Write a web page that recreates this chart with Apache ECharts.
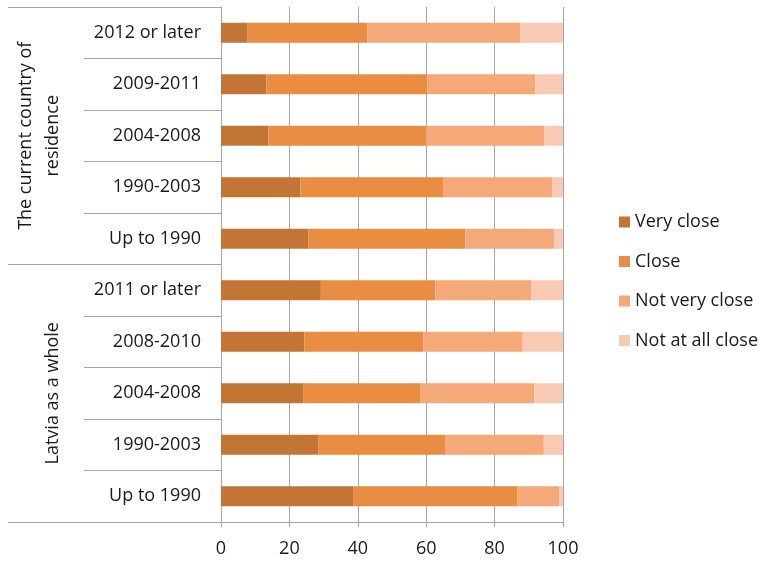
<!DOCTYPE html>
<html>
<head>
<meta charset="utf-8">
<script src="https://cdn.jsdelivr.net/npm/echarts@6/dist/echarts.min.js"></script>
<style>html,body{margin:0;padding:0;background:#fff}#c{width:765px;height:561px}</style>
</head>
<body>
<div id="c"></div>
<script>
const categories = ['2012 or later','2009-2011','2004-2008','1990-2003','Up to 1990',
                    '2011 or later','2008-2010','2004-2008','1990-2003','Up to 1990'];
const groups = ['The current country of\nresidence','Latvia as a whole'];
const seriesNames = ['Very close','Close','Not very close','Not at all close'];
const veryClose    = [7.8, 13.3, 13.9, 23.2, 25.6, 29.2, 24.4, 24.0, 28.4, 38.8];
const close        = [35.0, 47.0, 46.1, 41.7, 45.8, 33.5, 34.7, 34.4, 37.1, 47.9];
const notVeryClose = [44.8, 31.6, 34.5, 32.0, 26.0, 28.0, 29.1, 33.2, 28.9, 12.3];
const notAtAll     = [12.4, 8.1, 5.5, 3.1, 2.6, 9.3, 11.8, 8.4, 5.6, 1.0];
const xTicks = [0, 20, 40, 60, 80, 100];

const colors = ['#C27535','#E88D42','#F6A978','#F8CAB3'];
const gray = '#A6A6A6';
const font = '"Open Sans", sans-serif';
const txt = '#1a1a1a';

const chart = echarts.init(document.getElementById('c'), null, {renderer:'canvas'});
const values = [veryClose, close, notVeryClose, notAtAll];
chart.setOption({
  animation: false,
  color: colors,
  textStyle: {fontFamily: font},
  grid: {left: 221, right: 202, top: 7, bottom: 39, outerBoundsMode: 'none', containLabel: false},
  legend: {
    orient: 'vertical', left: 614, top: 207,
    itemWidth: 11, itemHeight: 11, itemGap: 19.5,
    icon: 'rect',
    textStyle: {fontFamily: font, fontSize: 18, color: txt, lineHeight: 20},
    data: seriesNames
  },
  xAxis: {
    type: 'value', min: xTicks[0], max: xTicks[xTicks.length-1], interval: 20,
    axisLine: {show: true, lineStyle: {color: gray}},
    axisTick: {show: true, length: 5, lineStyle: {color: gray}},
    splitLine: {show: true, lineStyle: {color: gray}},
    axisLabel: {fontFamily: font, fontSize: 18, color: txt, margin: 18}
  },
  yAxis: [{
    type: 'category', inverse: true, data: categories,
    axisLine: {show: true, lineStyle: {color: gray}},
    axisTick: {show: true, length: 137, lineStyle: {color: gray}},
    axisLabel: {fontFamily: font, fontSize: 18, color: txt, margin: 20,
      formatter: (v, i) => categories[i]}
  }, {
    type: 'category', inverse: true, data: groups, position: 'left', offset: 137,
    axisLine: {show: false},
    axisTick: {show: true, length: 76, lineStyle: {color: gray}},
    axisLabel: {fontFamily: font, fontSize: 18, color: txt, rotate: 90, lineHeight: 27, margin: 18, align: 'center'}
  }],
  series: seriesNames.map((n, k) => ({
    name: n, type: 'bar', stack: 'total', yAxisIndex: 0, barWidth: 20,
    itemStyle: {color: colors[k]},
    data: values[k]
  }))
});
</script>
</body>
</html>
